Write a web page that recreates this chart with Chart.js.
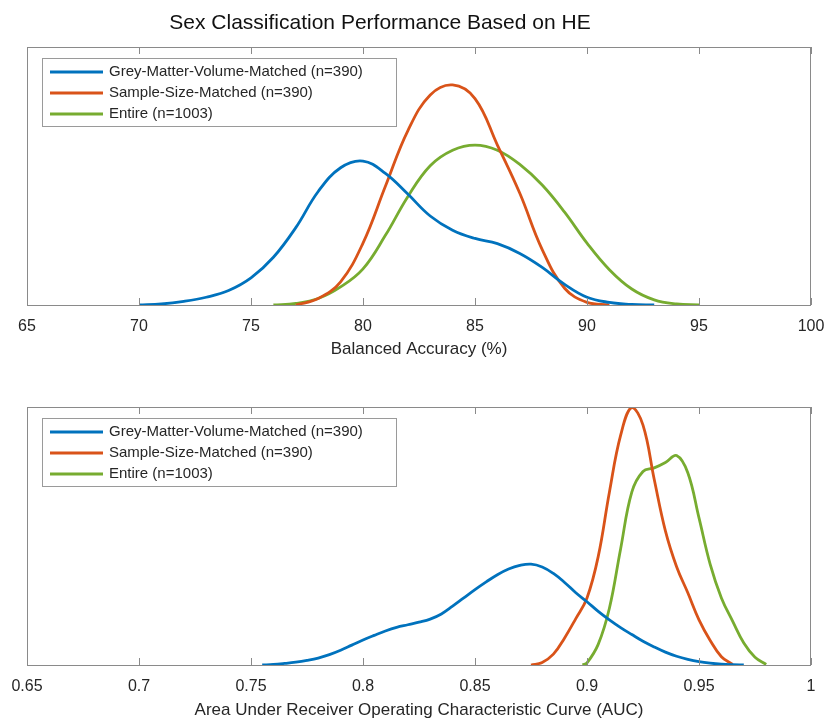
<!DOCTYPE html>
<html>
<head>
<meta charset="utf-8">
<script src="https://cdn.jsdelivr.net/npm/chart.js@4.4.0/dist/chart.umd.min.js"></script>
<style>
body { margin: 0; background: #fff; }
.painel { position: relative; width: 825px; height: 361px; }
</style>
</head>
<body>
<div class="painel"><canvas id="graficoBA"></canvas></div>
<div class="painel"><canvas id="graficoAUC"></canvas></div>
<script>
// Nomes e cores das series (cores padrao do MATLAB)
const nomesSeries = ['Grey-Matter-Volume-Matched (n=390)', 'Sample-Size-Matched (n=390)', 'Entire (n=1003)'];
const coresSeries = ['#0072BD', '#D95319', '#77AC30'];

// Eixo x do grafico de acuracia balanceada
const baTicks = [65, 70, 75, 80, 85, 90, 95, 100];
const baTickLabels = ['65', '70', '75', '80', '85', '90', '95', '100'];

// Eixo x do grafico de AUC
const aucTicks = [0.65, 0.7, 0.75, 0.8, 0.85, 0.9, 0.95, 1];
const aucTickLabels = ['0.65', '0.7', '0.75', '0.8', '0.85', '0.9', '0.95', '1'];

// Densidades (altura relativa) - Balanced Accuracy
const baGmvX = [70, 71, 72, 73, 74, 75, 76, 77, 78, 79, 80, 81, 82, 83, 84, 85, 86, 87, 88, 89, 90, 91, 92, 93];
const baGmvY = [0, 0.004, 0.014, 0.03, 0.056, 0.105, 0.185, 0.30, 0.44, 0.532, 0.558, 0.51, 0.43, 0.345, 0.29, 0.258, 0.238, 0.20, 0.146, 0.08, 0.03, 0.01, 0.002, 0];
const baSsmX = [77, 78, 79, 80, 81, 82, 83, 84, 85, 86, 87, 88, 89, 90, 91];
const baSsmY = [0, 0.025, 0.09, 0.24, 0.46, 0.675, 0.814, 0.853, 0.80, 0.62, 0.433, 0.215, 0.065, 0.01, 0];
const baEntX = [76, 77, 78, 79, 80, 81, 82, 83, 84, 85, 86, 87, 88, 89, 90, 91, 92, 93, 94, 95];
const baEntY = [0, 0.006, 0.025, 0.07, 0.14, 0.27, 0.42, 0.54, 0.60, 0.62, 0.60, 0.545, 0.465, 0.36, 0.24, 0.137, 0.062, 0.02, 0.004, 0];

// Densidades (altura relativa) - AUC
const aucGmvX = [0.755, 0.76, 0.765, 0.77, 0.775, 0.78, 0.785, 0.79, 0.795, 0.8, 0.805, 0.81, 0.815, 0.82, 0.825, 0.83, 0.835, 0.84, 0.845, 0.85, 0.855, 0.86, 0.865, 0.87, 0.875, 0.88, 0.885, 0.89, 0.895, 0.9, 0.905, 0.91, 0.915, 0.92, 0.925, 0.93, 0.935, 0.94, 0.945, 0.95, 0.955, 0.96, 0.965, 0.97];
const aucGmvY = [0, 0.002, 0.006, 0.011, 0.018, 0.027, 0.04, 0.057, 0.077, 0.097, 0.115, 0.132, 0.146, 0.156, 0.166, 0.178, 0.198, 0.228, 0.26, 0.292, 0.322, 0.35, 0.372, 0.386, 0.391, 0.38, 0.355, 0.32, 0.28, 0.245, 0.208, 0.175, 0.145, 0.118, 0.092, 0.07, 0.05, 0.034, 0.022, 0.013, 0.007, 0.003, 0.001, 0];
const aucSsmX = [0.875, 0.88, 0.885, 0.89, 0.895, 0.9, 0.905, 0.91, 0.915, 0.92, 0.925, 0.93, 0.935, 0.94, 0.945, 0.95, 0.955, 0.96, 0.965];
const aucSsmY = [0, 0.01, 0.042, 0.105, 0.18, 0.26, 0.42, 0.67, 0.89, 0.998, 0.93, 0.72, 0.52, 0.381, 0.28, 0.175, 0.095, 0.032, 0.002];
const aucEntX = [0.898, 0.9, 0.905, 0.91, 0.915, 0.92, 0.925, 0.93, 0.935, 0.94, 0.945, 0.95, 0.955, 0.96, 0.965, 0.97, 0.975, 0.98];
const aucEntY = [0, 0.008, 0.08, 0.22, 0.45, 0.67, 0.75, 0.764, 0.785, 0.812, 0.745, 0.57, 0.39, 0.26, 0.17, 0.085, 0.03, 0.002];

const fonte = "'Liberation Sans', Arial, sans-serif";
const corTexto = '#262626';
const corEixo = '#8a8a8a';

// Junta os arrays x e y em pontos {x, y}
function pares(xs, ys) {
    return xs.map((x, i) => ({ x: x, y: ys[i] }));
}

// Plugin para desenhar a moldura do eixo e as marcas de tick (estilo MATLAB)
const moldura = {
    id: 'moldura',
    afterDatasetsDraw(chart) {
        const { ctx, chartArea: a, scales } = chart;
        ctx.save();
        ctx.strokeStyle = corEixo;
        ctx.lineWidth = 1;
        ctx.strokeRect(a.left + 0.5, a.top + 0.5, a.right - a.left - 1, a.bottom - a.top);
        scales.x.ticks.forEach(t => {
            const px = Math.round(scales.x.getPixelForValue(t.value)) + 0.5;
            ctx.beginPath();
            ctx.moveTo(px, a.bottom);
            ctx.lineTo(px, a.bottom - 7);
            ctx.moveTo(px, a.top);
            ctx.lineTo(px, a.top + 7);
            ctx.stroke();
        });
        ctx.restore();
    }
};

// Plugin para a legenda dentro da area do grafico
const legendaCaixa = {
    id: 'legendaCaixa',
    afterDraw(chart) {
        const ctx = chart.ctx;
        const x = 42, y = chart.chartArea.top + 11, w = 354, h = 68;
        ctx.save();
        ctx.fillStyle = '#fff';
        ctx.fillRect(x, y, w, h);
        ctx.strokeStyle = '#9a9a9a';
        ctx.lineWidth = 1;
        ctx.strokeRect(x + 0.5, y + 0.5, w, h);
        ctx.font = '15px ' + fonte;
        ctx.textBaseline = 'middle';
        chart.data.datasets.forEach((ds, i) => {
            const ly = y + 14 + i * 21;
            ctx.strokeStyle = ds.borderColor;
            ctx.lineWidth = 2.8;
            ctx.beginPath();
            ctx.moveTo(x + 8, ly);
            ctx.lineTo(x + 61, ly);
            ctx.stroke();
            ctx.fillStyle = corTexto;
            ctx.fillText(ds.label, x + 67, ly);
        });
        ctx.restore();
    }
};

// Plugin para o titulo geral (somente no primeiro grafico)
const tituloGeral = {
    id: 'tituloGeral',
    afterDraw(chart, args, opts) {
        if (!opts.texto) return;
        const ctx = chart.ctx;
        ctx.save();
        ctx.font = '21px ' + fonte;
        ctx.fillStyle = '#111';
        ctx.textAlign = 'center';
        ctx.textBaseline = 'middle';
        ctx.fillText(opts.texto, 380, 23);
        ctx.restore();
    }
};

function criarGrafico(id, series, xMin, xMax, ticks, tickLabels, tituloEixo, topo, base, titulo) {
    const datasets = series.map((s, i) => ({
        label: nomesSeries[i],
        data: pares(s[0], s[1]),
        borderColor: coresSeries[i],
        borderWidth: 2.8,
        pointRadius: 0,
        fill: false,
        tension: 0.4
    }));

    return new Chart(document.getElementById(id), {
        type: 'line',
        data: { datasets: datasets },
        options: {
            responsive: true,
            maintainAspectRatio: false,
            animation: false,
            events: [],
            layout: { padding: { left: 27, right: 14, top: topo, bottom: 0 } },
            plugins: {
                legend: { display: false },
                tooltip: { enabled: false },
                tituloGeral: { texto: titulo }
            },
            scales: {
                x: {
                    type: 'linear',
                    min: xMin,
                    max: xMax,
                    grid: { display: false, drawTicks: false },
                    border: { display: false },
                    afterBuildTicks: (scale) => { scale.ticks = ticks.map(v => ({ value: v })); },
                    afterFit: (scale) => {
                        scale.height = 361 - base;
                        scale.paddingLeft = 0;
                        scale.paddingRight = 0;
                    },
                    ticks: {
                        autoSkip: false,
                        maxRotation: 0,
                        padding: 12,
                        color: corTexto,
                        font: { family: fonte, size: 16 },
                        callback: (v, i) => tickLabels[i]
                    },
                    title: {
                        display: true,
                        text: tituloEixo,
                        color: corTexto,
                        font: { family: fonte, size: 17 },
                        padding: { top: 0, bottom: 1 }
                    }
                },
                y: {
                    display: false,
                    min: 0,
                    max: 1
                }
            }
        },
        plugins: [moldura, legendaCaixa, tituloGeral]
    });
}

criarGrafico('graficoBA',
    [[baGmvX, baGmvY], [baSsmX, baSsmY], [baEntX, baEntY]],
    65, 100, baTicks, baTickLabels, 'Balanced Accuracy (%)', 47, 305,
    'Sex Classification Performance Based on HE');

criarGrafico('graficoAUC',
    [[aucGmvX, aucGmvY], [aucSsmX, aucSsmY], [aucEntX, aucEntY]],
    0.65, 1, aucTicks, aucTickLabels, 'Area Under Receiver Operating Characteristic Curve (AUC)', 46, 304,
    null);
</script>
</body>
</html>
